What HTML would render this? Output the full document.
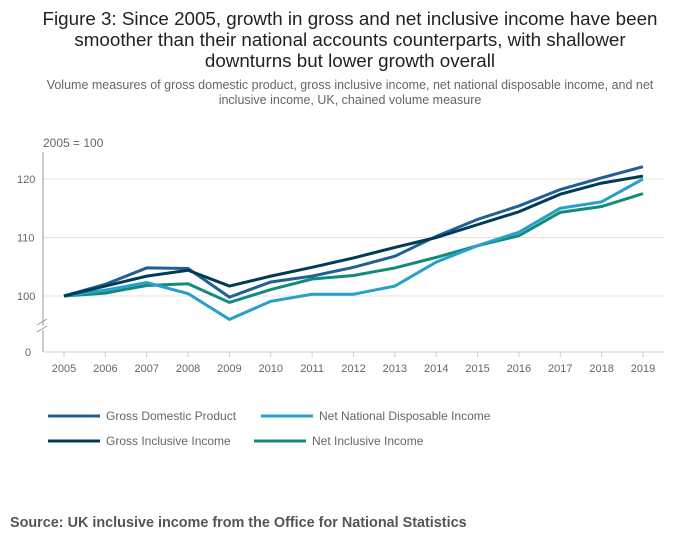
<!DOCTYPE html>
<html><head><meta charset="utf-8"><style>
body{margin:0;background:#fff;width:700px;height:549px;overflow:hidden;font-family:"Liberation Sans",sans-serif;}
</style></head><body>
<svg width="700" height="549" id="chart" xmlns="http://www.w3.org/2000/svg" font-family="Liberation Sans, sans-serif">
<text x="350" y="25" text-anchor="middle" font-size="18.8" fill="#222">Figure 3: Since 2005, growth in gross and net inclusive income have been</text>
<text x="350" y="46" text-anchor="middle" font-size="18.8" fill="#222">smoother than their national accounts counterparts, with shallower</text>
<text x="350" y="67" text-anchor="middle" font-size="18.8" fill="#222">downturns but lower growth overall</text>
<text x="350" y="89" text-anchor="middle" font-size="12.5" fill="#666">Volume measures of gross domestic product, gross inclusive income, net national disposable income, and net</text>
<text x="350" y="104" text-anchor="middle" font-size="12.5" fill="#666">inclusive income, UK, chained volume measure</text>
<text x="43" y="147" font-size="12" fill="#666">2005 = 100</text>
<g id="grid"></g>
<line x1="43" y1="152" x2="43" y2="352" stroke="#999"/>
<line x1="43" y1="352" x2="665" y2="352" stroke="#ccd"/>
<line x1="38" y1="328" x2="48" y2="328" stroke="#fff" stroke-width="4"/>
<path d="M37,325 l10,-6 M37,332 l10,-6" stroke="#999" fill="none"/>
<text x="25" y="356" font-size="11" fill="#666">0</text>
<g id="xt"></g><g id="lines"></g>
<g font-size="12" fill="#666">
<line x1="48" y1="416" x2="100" y2="416" stroke="#206095" stroke-width="3"/><text x="106" y="420">Gross Domestic Product</text>
<line x1="261" y1="416" x2="313" y2="416" stroke="#27a0cc" stroke-width="3"/><text x="319" y="420">Net National Disposable Income</text>
<line x1="48" y1="441" x2="100" y2="441" stroke="#003c57" stroke-width="3"/><text x="106" y="445">Gross Inclusive Income</text>
<line x1="254" y1="441" x2="306" y2="441" stroke="#118c7b" stroke-width="3"/><text x="312" y="445">Net Inclusive Income</text>
</g>
<text x="10" y="527" font-size="14.4" font-weight="bold" fill="#555">Source: UK inclusive income from the Office for National Statistics</text>
</svg>
<script>
const years=[2005,2006,2007,2008,2009,2010,2011,2012,2013,2014,2015,2016,2017,2018,2019];
const gdp=[100,102,104.8,104.7,99.8,102.4,103.4,104.9,106.8,110.2,113.1,115.4,118.2,120.2,122.1];
const gii=[100,101.7,103.4,104.4,101.7,103.4,104.9,106.5,108.3,110,112.2,114.4,117.4,119.3,120.5];
const nndi=[100,101,102.3,100.4,96,99.1,100.3,100.3,101.7,105.8,108.6,110.9,115,116.1,120];
const nii=[100,100.5,101.8,102.1,98.9,101.1,102.9,103.5,104.8,106.6,108.6,110.3,114.3,115.3,117.5];
const yTicks=[100,110,120];
const NS="http://www.w3.org/2000/svg";
const x=i=>64+i*(643-64)/14;
const y=v=>296-(v-100)*5.85;
const grid=document.getElementById('grid');
yTicks.forEach(t=>{
const l=document.createElementNS(NS,'line');
l.setAttribute('x1',43);l.setAttribute('x2',665);l.setAttribute('y1',y(t));l.setAttribute('y2',y(t));l.setAttribute('stroke','#e2e2e2');


grid.appendChild(l);
const tx=document.createElementNS(NS,'text');
tx.setAttribute('x',17);tx.setAttribute('y',y(t)+4);tx.setAttribute('font-size','11');tx.setAttribute('fill','#666');tx.textContent=t;


grid.appendChild(tx);});
const xt=document.getElementById('xt');
years.forEach((yr,i)=>{
const tk=document.createElementNS(NS,'line');
tk.setAttribute('x1',x(i));tk.setAttribute('x2',x(i));tk.setAttribute('y1',352);tk.setAttribute('y2',357);tk.setAttribute('stroke','#ccd');
xt.appendChild(tk);
const t=document.createElementNS(NS,'text');
t.setAttribute('x',x(i));t.setAttribute('y',372);t.setAttribute('text-anchor','middle');t.setAttribute('font-size','11');t.setAttribute('fill','#666');t.textContent=yr;


xt.appendChild(t);});
const lines=document.getElementById('lines');
[[nii,'#118c7b','nii'],[nndi,'#27a0cc','nndi'],[gdp,'#206095','gdp'],[gii,'#003c57','gii']].forEach(([d,c,n])=>{
const p=document.createElementNS(NS,'polyline');
p.setAttribute('points',d.map((v,i)=>x(i)+','+y(v)).join(' '));
p.setAttribute('fill','none');p.setAttribute('stroke',c);p.setAttribute('stroke-width','3');


lines.appendChild(p);});
</script>
</body></html>
